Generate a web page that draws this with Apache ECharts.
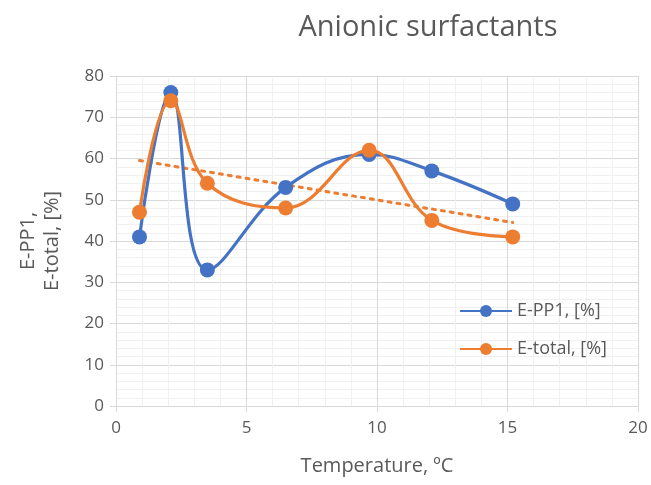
<!DOCTYPE html>
<html><head><meta charset="utf-8">
<script src="https://cdn.jsdelivr.net/npm/echarts@6/dist/echarts.min.js"></script>
<style>html,body{margin:0;padding:0;background:#fff}#c{width:651px;height:485px}</style>
</head><body><div id="c"></div>
<script>
const temps = [0.9, 2.1, 3.5, 6.5, 9.7, 12.1, 15.2];
const ePP1 = [41, 76, 33, 53, 61, 57, 49];
const eTotal = [47, 74, 54, 48, 62, 45, 41];
const trendX = [0.9, 15.2];
const trendY = [59.5, 44.5];
const seriesNames = ['E-PP1, [%]', 'E-total, [%]'];
const titleText = 'Anionic surfactants';
const xName = 'Temperature, ºC';
const yName = 'E-PP1,\nE-total, [%]';

const pairs = (xs, ys) => xs.map((x, i) => [x, ys[i]]);
const FONT = 'Open Sans';
const chart = echarts.init(document.getElementById('c'));
chart.setOption({
  animation: false,
  backgroundColor: '#fff',
  title: { text: titleText, left: 423, top: 8, textAlign: 'center',
    textStyle: { color: '#595959', fontFamily: FONT, fontSize: 29, fontWeight: 'normal' } },
  grid: { left: 116, right: 13, top: 76, bottom: 79 },
  legend: {
    data: seriesNames, orient: 'vertical', left: 454, top: 297, itemGap: 20,
    itemWidth: 52, itemHeight: 15,
    textStyle: { color: '#595959', fontFamily: FONT, fontSize: 18 }
  },
  xAxis: {
    type: 'value', min: 0, max: 20, interval: 5,
    name: xName, nameLocation: 'middle', nameGap: 50,
    nameTextStyle: { color: '#595959', fontFamily: FONT, fontSize: 20 },
    axisLine: { show: true, lineStyle: { color: '#d9d9d9', width: 1 } },
    axisTick: { show: true, length: 6, lineStyle: { color: '#d9d9d9' } },
    axisLabel: { color: '#595959', fontFamily: FONT, fontSize: 17, margin: 14 },
    splitLine: { show: true, lineStyle: { color: '#d9d9d9', width: 1 } },
    minorTick: { show: false, splitNumber: 5 },
    minorSplitLine: { show: true, lineStyle: { color: '#f0f0f0', width: 1 } }
  },
  yAxis: {
    type: 'value', min: 0, max: 80, interval: 10,
    name: yName, nameLocation: 'middle', nameGap: 52, nameRotate: 90,
    nameTextStyle: { color: '#595959', fontFamily: FONT, fontSize: 20, lineHeight: 24 },
    axisLine: { show: true, lineStyle: { color: '#d9d9d9', width: 1 } },
    axisTick: { show: true, length: 6, lineStyle: { color: '#d9d9d9' } },
    axisLabel: { color: '#595959', fontFamily: FONT, fontSize: 17, margin: 12 },
    splitLine: { show: true, lineStyle: { color: '#d9d9d9', width: 1 } },
    minorTick: { show: false, splitNumber: 5 },
    minorSplitLine: { show: true, lineStyle: { color: '#f0f0f0', width: 1 } }
  },
  series: [
    { name: seriesNames[0], type: 'line', data: pairs(temps, ePP1), smooth: 0.4,
      symbol: 'circle', symbolSize: 15, z: 3,
      itemStyle: { color: '#4472C4' }, lineStyle: { color: '#4472C4', width: 3.2 } },
    { name: seriesNames[1], type: 'line', data: pairs(temps, eTotal), smooth: 0.4,
      symbol: 'circle', symbolSize: 15, z: 4,
      itemStyle: { color: '#ED7D31' }, lineStyle: { color: '#ED7D31', width: 3.2 } },
    { name: 'trend', type: 'line', data: pairs(trendX, trendY), symbol: 'none', z: 2,
      lineStyle: { color: '#ED7D31', width: 3, type: [3, 6], cap: 'round' } }
  ]
});
</script></body></html>
